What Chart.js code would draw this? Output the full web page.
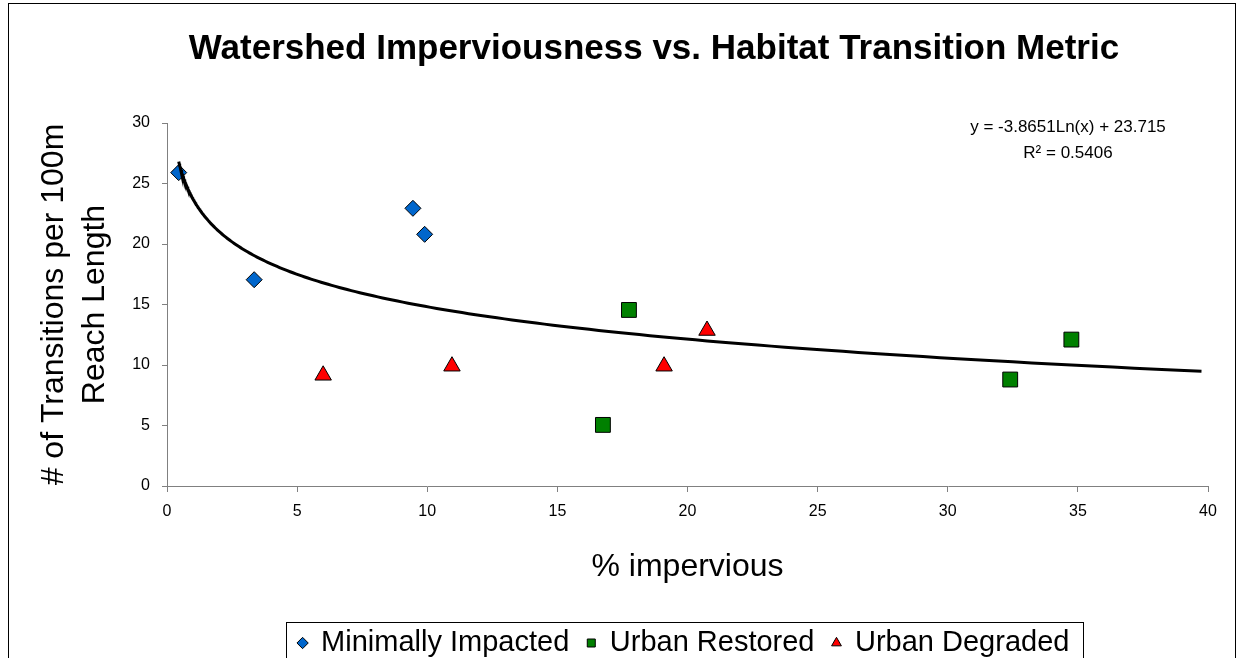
<!DOCTYPE html>
<html>
<head>
<meta charset="utf-8">
<title>Watershed Imperviousness vs. Habitat Transition Metric</title>
<script src="https://cdn.jsdelivr.net/npm/chart.js@4.4.1/dist/chart.umd.min.js"></script>
<style>
  html, body { margin: 0; padding: 0; background: #fff; }
  #wrap { width: 1238px; height: 658px; overflow: hidden; }
</style>
</head>
<body>
<div id="wrap"><canvas id="chart" width="1238" height="658"></canvas></div>
<script>
// values
const minimalX = [0.45, 3.35, 9.45, 9.9];
const minimalY = [25.9, 17.05, 22.95, 20.8];
const restoredX = [16.75, 17.75, 32.4, 34.75];
const restoredY = [5.05, 14.55, 8.8, 12.1];
const degradedX = [6.0, 10.95, 19.1, 20.75];
const degradedY = [9.15, 9.9, 9.9, 12.85];

// log trendline as printed on the chart (drawn from min x, 5 units past max x)
const trendSlope = -3.8651;
const trendIntercept = 23.715;
const trendR2 = 0.5406;
const trendRange = [0.45, 39.75];

const seriesNames = ["Minimally Impacted", "Urban Restored", "Urban Degraded"];
const FONT = "'Liberation Sans', Arial, sans-serif";
const TITLE_CX = 654;
const LEGEND_CX = 684;
const LEGEND_FONT = 29;
const LEGEND_PAD = 18;

function toPoints(xs, ys) {
    return xs.map((x, i) => ({ x: x, y: ys[i] }));
}

function trendPoints() {
    // sample the printed equation y = a*ln(x) + b along its range
    const pts = [];
    const steps = 200;
    const lo = Math.log(trendRange[0]), hi = Math.log(trendRange[1]);
    for (let i = 0; i <= steps; i++) {
        const x = Math.exp(lo + (hi - lo) * i / steps);
        pts.push({ x: x, y: trendSlope * Math.log(x) + trendIntercept });
    }
    return pts;
}

const frame = {
    id: 'frame',
    afterLayout(chart) {
        // move title and legend boxes to where the original has them
        const t = chart.titleBlock;
        if (t) { t.left = TITLE_CX - 620; t.right = TITLE_CX + 620; }
        const lg = chart.legend;
        if (lg) {
            lg.left = LEGEND_CX - 620;
            lg.right = LEGEND_CX + 620;
            lg.top = 643 - LEGEND_PAD - LEGEND_FONT / 2;
            lg.bottom = chart.height + 20;
        }
    },
    beforeDraw(chart) {
        const ctx = chart.ctx;
        ctx.save();
        ctx.fillStyle = '#fff';
        ctx.fillRect(0, 0, chart.width, chart.height);
        ctx.strokeStyle = '#000';
        ctx.lineWidth = 1;
        ctx.strokeRect(8.5, 3.5, 1227, 720);
        ctx.restore();
    },
    afterDraw(chart) {
        const ctx = chart.ctx;
        ctx.save();
        // trendline equation
        ctx.fillStyle = '#000';
        ctx.font = '17px ' + FONT;
        ctx.textAlign = 'center';
        ctx.textBaseline = 'middle';
        const sign = trendIntercept < 0 ? '-' : '+';
        ctx.fillText('y = ' + trendSlope + 'Ln(x) ' + sign + ' ' + Math.abs(trendIntercept), 1068, 127);
        ctx.fillText('R\u00B2 = ' + trendR2, 1068, 153);
        // legend box
        const lg = chart.legend;
        if (lg && lg.lineWidths) {
            const span = lg.lineWidths[0] - LEGEND_PAD;
            const l = Math.round(LEGEND_CX - span / 2 - 13);
            const w = Math.round(span + 26);
            ctx.strokeStyle = '#000';
            ctx.strokeRect(l + 0.5, 622.5, w, 80);
        }
        ctx.restore();
    }
};

new Chart(document.getElementById('chart'), {
    type: 'scatter',
    data: {
        datasets: [
            {
                type: 'line',
                label: 'trend',
                data: trendPoints(),
                borderColor: '#000',
                borderWidth: 3,
                pointRadius: 0,
                fill: false,
                tension: 0
            },
            {
                label: seriesNames[0],
                data: toPoints(minimalX, minimalY),
                pointStyle: 'rectRot',
                pointRadius: 8,
                backgroundColor: '#0066CC',
                borderColor: '#000',
                borderWidth: 1
            },
            {
                label: seriesNames[1],
                data: toPoints(restoredX, restoredY),
                pointStyle: 'rect',
                pointRadius: 10.5,
                backgroundColor: '#008000',
                borderColor: '#000',
                borderWidth: 1
            },
            {
                label: seriesNames[2],
                data: toPoints(degradedX, degradedY),
                pointStyle: 'triangle',
                pointRadius: 9.5,
                backgroundColor: '#FF0000',
                borderColor: '#000',
                borderWidth: 1
            }
        ]
    },
    options: {
        responsive: false,
        animation: false,
        events: [],
        layout: { padding: { left: 12, right: 30, top: 0, bottom: 6 } },
        plugins: {
            tooltip: { enabled: false },
            title: {
                display: true,
                text: 'Watershed Imperviousness vs. Habitat Transition Metric',
                color: '#000',
                font: { family: FONT, size: 35, weight: 'bold', lineHeight: 1.2 },
                padding: { top: 28.5, bottom: 52.5 }
            },
            legend: {
                position: 'bottom',
                labels: {
                    filter: item => item.datasetIndex > 0,
                    usePointStyle: true,
                    boxWidth: 8,
                    boxHeight: 8,
                    padding: LEGEND_PAD,
                    color: '#000',
                    font: { family: FONT, size: LEGEND_FONT }
                }
            }
        },
        scales: {
            x: {
                type: 'linear',
                min: 0,
                max: 40,
                afterFit: s => { s.height = 109; },
                ticks: { stepSize: 5, color: '#000', padding: 10, font: { family: FONT, size: 16 } },
                grid: { display: true, drawOnChartArea: false, drawTicks: true, tickLength: 6, color: '#808080' },
                border: { display: true, color: '#808080', width: 1 },
                title: {
                    display: true,
                    text: '% impervious',
                    color: '#000',
                    font: { family: FONT, size: 32, lineHeight: 1.2 },
                    padding: { top: 0, bottom: 9 }
                }
            },
            y: {
                min: 0,
                max: 30,
                afterFit: s => { s.width = 155; },
                ticks: { stepSize: 5, color: '#000', padding: 12, font: { family: FONT, size: 16 } },
                grid: { display: true, drawOnChartArea: false, drawTicks: true, tickLength: 5, color: '#808080' },
                border: { display: true, color: '#808080', width: 1 },
                title: {
                    display: true,
                    text: ['# of Transitions per 100m', 'Reach Length'],
                    color: '#000',
                    font: { family: FONT, size: 32, lineHeight: 1.3 },
                    padding: { top: 21, bottom: 0 }
                }
            }
        }
    },
    plugins: [frame]
});
</script>
</body>
</html>
